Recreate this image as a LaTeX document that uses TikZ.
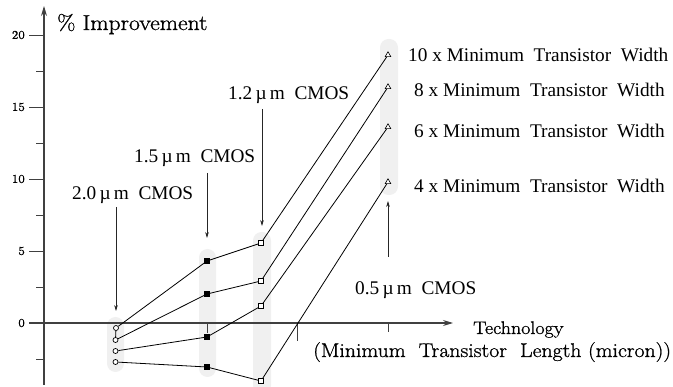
\documentclass[tikz,border=0pt]{standalone}
\usepackage{fontspec}
\newfontfamily\tms{Liberation Serif}
\newfontfamily\cmx{Latin Modern Roman}[FakeStretch=1.1,FakeBold=1]
\usetikzlibrary{arrows.meta,shapes.geometric}
\begin{document}
\begin{tikzpicture}[x=1pt,y=-1pt,
  band/.style={fill=gray!12,draw=none,rounded corners=8.5pt},
  axis/.style={draw=black!75,line width=1.1pt},
  datal/.style={draw=black,line width=0.8pt},
  ptr/.style={draw=black!85,line width=0.7pt,-{Stealth[length=6pt,width=3.6pt]}},
  circpt/.style={circle,draw=black,fill=white,line width=0.7pt,inner sep=0pt,minimum size=5pt},
  fsqpt/.style={rectangle,draw=black,fill=black,line width=0.6pt,inner sep=0pt,minimum size=5pt},
  osqpt/.style={rectangle,draw=black,fill=white,line width=0.7pt,inner sep=0pt,minimum size=5pt},
  tript/.style={regular polygon,regular polygon sides=3,draw=black,fill=white,line width=0.6pt,inner sep=0pt,minimum size=6.5pt},
  lab/.style={font=\tms\fontsize{19.3}{22}\selectfont,inner sep=0pt,anchor=base west},
  cmlab/.style={inner sep=0pt,anchor=base west},
  ticklab/.style={font=\cmx\fontsize{12}{14}\selectfont,inner sep=0pt,anchor=east}
]
\useasboundingbox (0,0) rectangle (673,387);
% bands
\fill[band] (107,317) rectangle (124,372);
\fill[band] (199,249) rectangle (216,377);
\fill[band] (253,232) rectangle (271,394);
\fill[band] (380,39) rectangle (398,195);
% axes
\coordinate (yb) at (44,385);
\coordinate (yt) at (44,6);
\coordinate (xl) at (29,323);
\coordinate (xr) at (453,323);
\draw[axis,-{Stealth[length=10pt,width=6pt]}] (yb) -- (yt);
\draw[axis,-{Stealth[length=10pt,width=6pt]}] (xl) -- (xr);
% y ticks
\foreach \yy/\tl in {35/20,107/15,179/10,251/5,323/0}{
  \draw[axis,line width=0.9pt] (29,\yy) -- (44,\yy);
  \node[ticklab] at (25,\yy) {\tl};
}
\foreach \yy in {71,143,215,287,359}{
  \draw[axis,line width=0.9pt] (36,\yy) -- (44,\yy);
}
% x ticks
\draw[axis,line width=0.9pt] (207,323) -- (207,333);
\draw[axis,line width=0.9pt] (297,323) -- (297,341);
\draw[axis,line width=0.9pt] (388,323) -- (388,332);
% data points
\node[circpt] (a1) at (116,328) {};
\node[circpt] (a2) at (115.5,340) {};
\node[circpt] (a3) at (115.5,351) {};
\node[circpt] (a4) at (115.5,362) {};
\node[fsqpt] (b1) at (207,261) {};
\node[fsqpt] (b2) at (207,294) {};
\node[fsqpt] (b3) at (207,337) {};
\node[fsqpt] (b4) at (207,367) {};
\node[osqpt] (c1) at (261,243) {};
\node[osqpt] (c2) at (261,281) {};
\node[osqpt] (c3) at (261,306) {};
\node[osqpt] (c4) at (261,381) {};
\node[tript] (d1) at (388,55) {};
\node[tript] (d2) at (388,87) {};
\node[tript] (d3) at (388,127) {};
\node[tript] (d4) at (388,182) {};
% data lines
\draw[datal] (a1) -- (b1) -- (c1) -- (d1);
\draw[datal] (a2) -- (b2) -- (c2) -- (d2);
\draw[datal] (a3) -- (b3) -- (c3) -- (d3);
\draw[datal] (a4) -- (b4) -- (c4) -- (d4);
\draw[datal] (a1) -- (a2);
% pointers
\coordinate (s1) at (116,207); \coordinate (e1) at (116,311);
\coordinate (s2) at (207,173); \coordinate (e2) at (207,238);
\coordinate (s3) at (262,109); \coordinate (e3) at (262,226);
\coordinate (s4) at (388,257); \coordinate (e4) at (388,201);
\draw[ptr] (s1) -- (e1);
\draw[ptr] (s2) -- (e2);
\draw[ptr] (s3) -- (e3);
\draw[ptr] (s4) -- (e4);
% labels
\node[lab] (t20) at (72,200) {2.0\,µ\,m~~CMOS};
\node[lab] (t15) at (134,163) {1.5\,µ\,m~~CMOS};
\node[lab] (t12) at (228,100) {1.2\,µ\,m~~CMOS};
\node[lab] (t05) at (355,295) {0.5\,µ\,m~~CMOS};
\node[lab] (w10) at (408,62) {10 x Minimum~~Transistor~~Width};
\node[lab] (w8) at (414,97) {8 x Minimum~~Transistor~~Width};
\node[lab] (w6) at (414,138) {6 x Minimum~~Transistor~~Width};
\node[lab] (w4) at (414,193) {4 x Minimum~~Transistor~~Width};
\node[cmlab,font=\cmx\fontsize{21.5}{24}\selectfont] (ylab) at (57,30) {\% Improvement};
\node[cmlab,font=\cmx\fontsize{18.2}{22}\selectfont] (xlab1) at (473,334) {Technology};
\node[cmlab,font=\cmx\fontsize{19.8}{22}\selectfont] (xlab2) at (313,357) {(Minimum~~Transistor~~Length (micron))};
\end{tikzpicture}
\end{document}
